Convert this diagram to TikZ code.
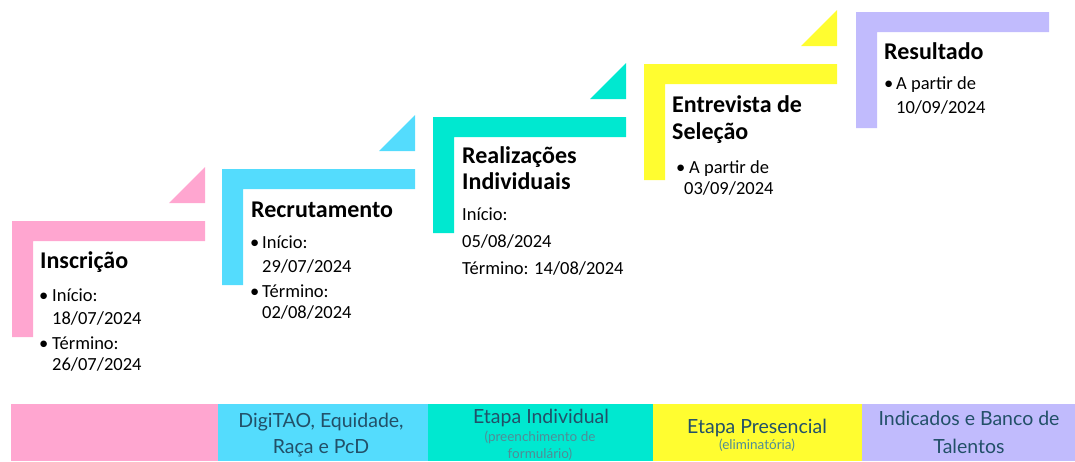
\documentclass[tikz,border=0pt]{standalone}
\usepackage{fontspec}
\setmainfont{Carlito}
\newfontfamily\bandfont{Lato}
\definecolor{cpink}{RGB}{255,166,208}
\definecolor{ccyan}{RGB}{84,220,253}
\definecolor{cteal}{RGB}{0,232,208}
\definecolor{cyellow}{RGB}{255,253,48}
\definecolor{cpurple}{RGB}{193,187,253}
\definecolor{bandtext}{RGB}{34,80,104}
\definecolor{bandsub}{RGB}{80,140,150}
\tikzset{
  head/.style={anchor=base west, inner sep=0pt, font=\fontsize{24}{28}\selectfont\bfseries},
  body/.style={anchor=base west, inner sep=0pt, font=\fontsize{18.5}{22}\selectfont},
  bul/.style={anchor=base west, inner sep=0pt, font=\fontsize{18.5}{22}\selectfont},
  band/.style={anchor=base, inner sep=0pt, text=bandtext, font=\bandfont\fontsize{19.5}{22}\selectfont},
  bandsmall/.style={anchor=base, inner sep=0pt, text=bandsub, font=\bandfont\fontsize{13.5}{16}\selectfont},
}
\newcommand{\stepL}[3]{% x, y, colour
  \fill[#3] (#1,#2) -- ++(193,0) -- ++(0,20) -- ++(-172,0) -- ++(0,96) -- ++(-21,0) -- cycle;
}
\newcommand{\stepT}[3]{%
  \fill[#3] (#1+157,#2-18) -- (#1+193,#2-18) -- (#1+193,#2-54) -- cycle;
}
\begin{document}
\begin{tikzpicture}[x=1pt,y=-1pt]
\useasboundingbox (0,0) rectangle (1075,461);
% steps
\stepL{12}{221}{cpink}\stepT{12}{221}{cpink}
\stepL{222}{169}{ccyan}\stepT{222}{169}{ccyan}
\stepL{433}{117}{cteal}\stepT{433}{117}{cteal}
\stepL{644}{64}{cyellow}\stepT{644}{64}{cyellow}
\stepL{856}{12}{cpurple}
% Inscricao
\node[head] (h1) at (40,268) {Inscrição};
\node[bul] (b1a) at (39,301) {•};
\node[body] (t1a) at (52,301) {Início:};
\node[body] (t1b) at (52,324) {18/07/2024};
\node[bul] (b1b) at (39,349) {•};
\node[body] (t1c) at (52,349) {Término:};
\node[body] (t1d) at (52,370) {26/07/2024};
% Recrutamento
\node[head] (h2) at (251,217) {Recrutamento};
\node[bul] (b2a) at (250,248) {•};
\node[body] (t2a) at (262,248) {Início:};
\node[body] (t2b) at (262,272) {29/07/2024};
\node[bul] (b2b) at (250,297) {•};
\node[body] (t2c) at (262,297) {Término:};
\node[body] (t2d) at (262,318) {02/08/2024};
% Realizacoes
\node[head] (h3a) at (462,163) {Realizações};
\node[head] (h3b) at (462,189) {Individuais};
\node[body] (t3a) at (462,220) {Início:};
\node[body] (t3b) at (462,247) {05/08/2024};
\node[body] (t3c) at (462,274) {Término: 14/08/2024};
% Entrevista
\node[head] (h4a) at (672,112) {Entrevista de};
\node[head] (h4b) at (672,139) {Seleção};
\node[bul] (b4a) at (676,173) {•};
\node[body] (t4a) at (689,173) {A partir de};
\node[body] (t4b) at (684,194) {03/09/2024};
% Resultado
\node[head] (h5) at (884,59) {Resultado};
\node[bul] (b5a) at (884,89) {•};
\node[body] (t5a) at (896,89) {A partir de};
\node[body] (t5b) at (896,113) {10/09/2024};
% bands
\fill[cpink] (11,404) rectangle (218,461);
\fill[ccyan] (218,404) rectangle (428,461);
\fill[cteal] (428,404) rectangle (653,461);
\fill[cyellow] (653,404) rectangle (862,461);
\fill[cpurple] (862,404) rectangle (1075,461);
\node[band] (d1) at (321,427) {DigiTAO, Equidade,};
\node[band] (d2) at (321,453) {Raça e PcD};
\node[band] (e1) at (541,423) {Etapa Individual};
\node[bandsmall] (e2) at (540,441) {(preenchimento de};
\node[bandsmall] (e3) at (540,458) {formulário)};
\node[band] (p1) at (757,433) {Etapa Presencial};
\node[bandsmall] (p2) at (757,449) {(eliminatória)};
\node[band] (i1) at (969,425) {Indicados e Banco de};
\node[band] (i2) at (969,453) {Talentos};
\end{tikzpicture}
\end{document}
